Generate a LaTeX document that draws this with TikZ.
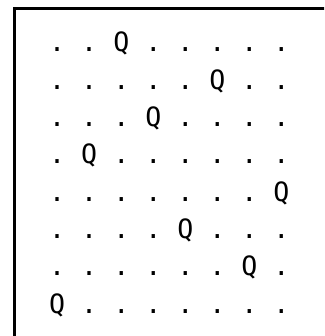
\documentclass[tikz,border=0pt]{standalone}
\usepackage{fontspec}
\newfontfamily\boardfont{DejaVu Sans Mono}
\tikzset{
  rowtext/.style={anchor=base west, inner sep=0pt, font=\boardfont\fontsize{26.6}{32}\selectfont},
  frame/.style={line width=3pt, draw=black}
}
\begin{document}
\begin{tikzpicture}[x=1pt,y=1pt]
\useasboundingbox (0,0) rectangle (324,336);
\clip (0,0) rectangle (324,336);
\fill[white] (0,0) rectangle (324,336);
\draw[frame] (14,336-8.5) rectangle (360,-30);
\node[rowtext] (r1) at (49,336-52) {.\ .\ Q\ .\ .\ .\ .\ .};
\node[rowtext] (r2) at (49,336-52-37.3) {.\ .\ .\ .\ .\ Q\ .\ .};
\node[rowtext] (r3) at (49,336-52-2*37.3) {.\ .\ .\ Q\ .\ .\ .\ .};
\node[rowtext] (r4) at (49,336-52-3*37.3) {.\ Q\ .\ .\ .\ .\ .\ .};
\node[rowtext] (r5) at (49,336-52-4*37.3) {.\ .\ .\ .\ .\ .\ .\ Q};
\node[rowtext] (r6) at (49,336-52-5*37.3) {.\ .\ .\ .\ Q\ .\ .\ .};
\node[rowtext] (r7) at (49,336-52-6*37.3) {.\ .\ .\ .\ .\ .\ Q\ .};
\node[rowtext] (r8) at (49,336-52-7*37.3) {Q\ .\ .\ .\ .\ .\ .\ .};
\end{tikzpicture}
\end{document}
